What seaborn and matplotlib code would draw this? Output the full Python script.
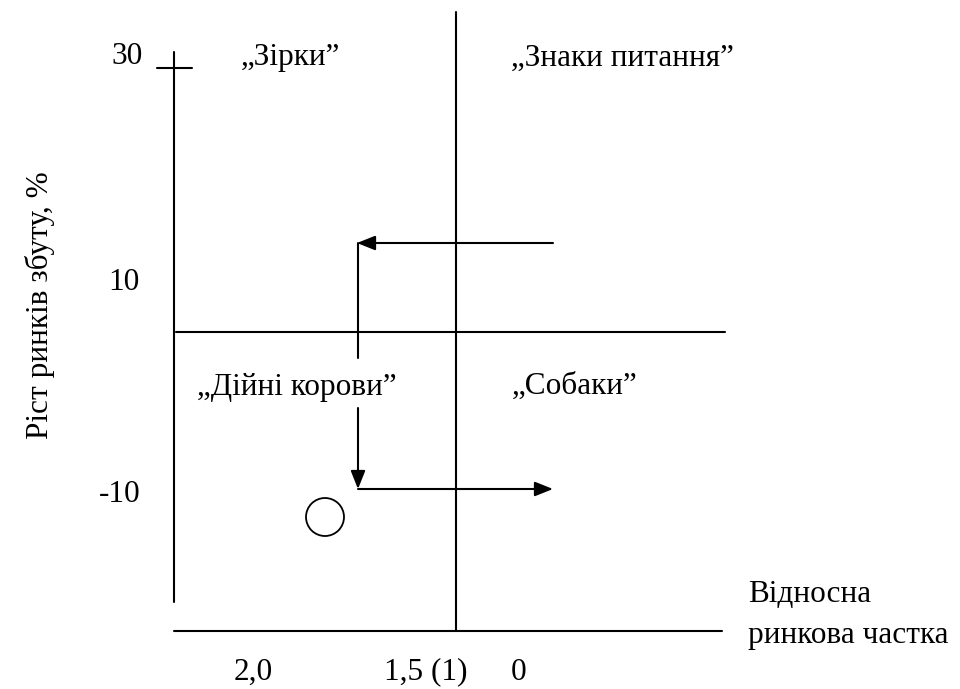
import matplotlib
matplotlib.use("Agg")
import matplotlib.pyplot as plt
import pandas as pd
import seaborn as sns
from matplotlib.patches import Circle

sns.set_style("white")
plt.rcParams['font.family'] = ['Liberation Serif', 'DejaVu Serif']

# diagram drawn in a 960 x 689 canvas space (y grows downwards)
# frame lines: name, x0, y0, x1, y1
line_names = ["left axis", "bottom axis", "tick 30", "middle vertical", "middle horizontal",
              "path upper", "path lower"]
line_x0 = [174, 174, 157, 456, 176, 358, 358]
line_y0 = [52, 631, 68, 12, 332, 243, 408]
line_x1 = [174, 722, 192, 456, 725, 358, 358]
line_y1 = [602, 631, 68, 631, 332, 358, 470]

# arrows: start -> tip
arrow_start = [(553, 243), (358, 470), (358, 489)]
arrow_tip = [(357, 243), (358, 489), (553, 489)]

# product position (circle)
circle_xy = (325, 517)
circle_r = 19

# quadrant labels
quad_labels = ["\u201eЗірки\u201d", "\u201eЗнаки питання\u201d", "\u201eДійні корови\u201d", "\u201eСобаки\u201d"]
quad_xy = [(290, 58), (622, 58), (297, 388), (575, 386)]

# y tick labels
ytick_labels = ["30", "10", "-10"]
ytick_xy = [(127, 56), (124, 282), (120, 495)]

# x tick labels
xtick_labels = ["2,0", "1,5 (1)", "0"]
xtick_xy = [(253, 672), (426, 672), (519, 672)]

fs = 22.5

fig = plt.figure(figsize=(9.6, 6.89), dpi=100)
ax = fig.add_axes([0, 0, 1, 1])
ax.set_xlim(0, 960)
ax.set_ylim(689, 0)
ax.axis("off")

segs = pd.DataFrame({
    "x": line_x0 + line_x1,
    "y": line_y0 + line_y1,
    "seg": line_names + line_names,
})
sns.lineplot(data=segs, x="x", y="y", units="seg", estimator=None, sort=False,
             color="black", lw=1.5, ax=ax, legend=False)
ax.set_xlim(0, 960)
ax.set_ylim(689, 0)

for s, t in zip(arrow_start, arrow_tip):
    ax.annotate("", xy=t, xytext=s,
                arrowprops=dict(arrowstyle="-|>,head_length=0.5,head_width=0.2",
                                color="black", lw=1.5,
                                mutation_scale=22, shrinkA=0, shrinkB=0))

ax.add_patch(Circle(circle_xy, circle_r, fill=False, ec="black", lw=1.3))

for t, (x, y) in zip(quad_labels, quad_xy):
    ax.text(x, y, t, ha="center", va="center", fontsize=fs, color="black")
for t, (x, y) in zip(ytick_labels, ytick_xy):
    ax.text(x, y, t, ha="center", va="center", fontsize=fs, color="black")
for t, (x, y) in zip(xtick_labels, xtick_xy):
    ax.text(x, y, t, ha="center", va="center", fontsize=fs, color="black")

ax.text(748, 595, "Відносна", ha="left", va="center", fontsize=fs, color="black")
ax.text(748, 635, "ринкова частка", ha="left", va="center", fontsize=fs, color="black")
ax.text(40, 305, "Ріст ринків збуту, %", ha="center", va="center",
        rotation=90, fontsize=fs, color="black")

fig.savefig("out.png", dpi=100)
